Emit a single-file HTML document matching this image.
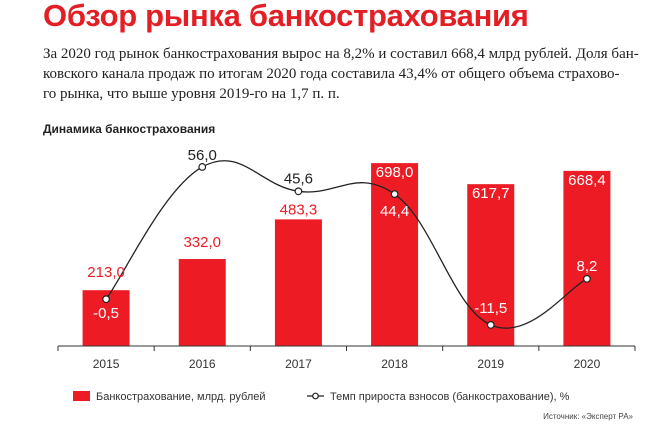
<!DOCTYPE html>
<html><head><meta charset="utf-8"><style>
body{margin:0;width:645px;height:437px;background:#fff;overflow:hidden;font-family:"Liberation Sans",sans-serif}
.t{position:absolute;left:43px;top:-2px;font-size:31px;font-weight:bold;color:#e31e24;letter-spacing:-0.3px}
.p{position:absolute;left:43px;top:44px;width:600px;font-family:"Liberation Serif",serif;font-size:15px;line-height:20px;color:#222}
.h{position:absolute;left:43px;top:122px;font-size:12px;font-weight:bold;color:#222}
</style></head><body>
<div class="t">Обзор рынка банкострахования</div>
<div class="p">За 2020 год рынок банкострахования вырос на 8,2% и составил 668,4 млрд рублей. Доля бан-<br>ковского канала продаж по итогам 2020 года составила 43,4% от общего объема страхово-<br>го рынка, что выше уровня 2019-го на 1,7 п. п.</div>
<div class="h">Динамика банкострахования</div>
<svg id="c" width="645" height="437" style="position:absolute;left:0;top:0"></svg>
<script>
const years=["2015","2016","2017","2018","2019","2020"];
const volume=[213.0,332.0,483.3,698.0,617.7,668.4];
const growth=[-0.5,56.0,45.6,44.4,-11.5,8.2];
const volLabels=["213,0","332,0","483,3","698,0","617,7","668,4"];
const growLabels=["-0,5","56,0","45,6","44,4","-11,5","8,2"];
const svg=document.getElementById('c');const NS="http://www.w3.org/2000/svg";
function mk(t,a,txt){const e=document.createElementNS(NS,t);for(const k in a)e.setAttribute(k,a[k]);if(txt!==undefined)e.textContent=txt;svg.appendChild(e);return e;}
const x0=58,x1=635,base=346,bw=(x1-x0)/years.length;
const xc=i=>x0+bw*(i+0.5);
const yv=v=>base-v*0.262;
const yg=v=>298-v*2.34;
years.forEach((y,i)=>{
 const b=mk('rect',{x:xc(i)-23.5,y:yv(volume[i]),width:47,height:base-yv(volume[i]),fill:'#ed1c24'});
 
 
 const t=mk('text',{x:xc(i),y:368,'text-anchor':'middle','font-size':12,fill:'#333'},y);
 
 
});
const ax=mk('line',{x1:x0,x2:x1,y1:base,y2:base,stroke:'#333','stroke-width':1});


for(let i=0;i<=years.length;i++){const tk=mk('line',{x1:x0+bw*i,x2:x0+bw*i,y1:base,y2:base+5,stroke:'#333'});}
const pts=growth.map((g,i)=>[xc(i),yg(g)]);
let d="M"+pts[0][0]+","+pts[0][1];
for(let i=0;i<pts.length-1;i++){const p0=pts[Math.max(0,i-1)],p1=pts[i],p2=pts[i+1],p3=pts[Math.min(pts.length-1,i+2)];
 const k=0.2;d+=" C"+(p1[0]+(p2[0]-p0[0])*k)+","+(p1[1]+(p2[1]-p0[1])*k)+" "+(p2[0]-(p3[0]-p1[0])*k)+","+(p2[1]-(p3[1]-p1[1])*k)+" "+p2[0]+","+p2[1];}
const ln=mk('path',{d:d,fill:'none',stroke:'#222','stroke-width':1.3});


pts.forEach((p,i)=>{const c=mk('circle',{cx:p[0],cy:p[1],r:3.3,fill:'#fff',stroke:'#222','stroke-width':1.2});});
const vl=[[-13,'#ed1c24'],[-12,'#ed1c24'],[-5,'#ed1c24'],[14,'#fff'],[14,'#fff'],[14,'#fff']];
years.forEach((y,i)=>{const t=mk('text',{x:xc(i),y:yv(volume[i])+vl[i][0],'text-anchor':'middle','font-size':15,fill:vl[i][1]},volLabels[i]);
 
 });
const gl=[[19,'#fff'],[-7,'#222'],[-8,'#222'],[22,'#fff'],[-12,'#fff'],[-8,'#fff']];
years.forEach((y,i)=>{const t=mk('text',{x:xc(i),y:yg(growth[i])+gl[i][0],'text-anchor':'middle','font-size':15,fill:gl[i][1]},growLabels[i]);
 
 });
const lr=mk('rect',{x:73,y:391,width:17,height:10,fill:'#ed1c24'});

const lt=mk('text',{x:96,y:400,'font-size':11,fill:'#333'},'Банкострахование, млрд. рублей');

const ll=mk('line',{x1:307,x2:324,y1:396,y2:396,stroke:'#222','stroke-width':1.3});

mk('circle',{cx:315.5,cy:396,r:2.8,fill:'#fff',stroke:'#222','stroke-width':1.2});
const lt2=mk('text',{x:330,y:400,'font-size':11,fill:'#333'},'Темп прироста взносов (банкострахование), %');

const src=mk('text',{x:633,y:419,'text-anchor':'end','font-size':8,fill:'#444'},'Источник: «Эксперт РА»');

</script>
</body></html>
